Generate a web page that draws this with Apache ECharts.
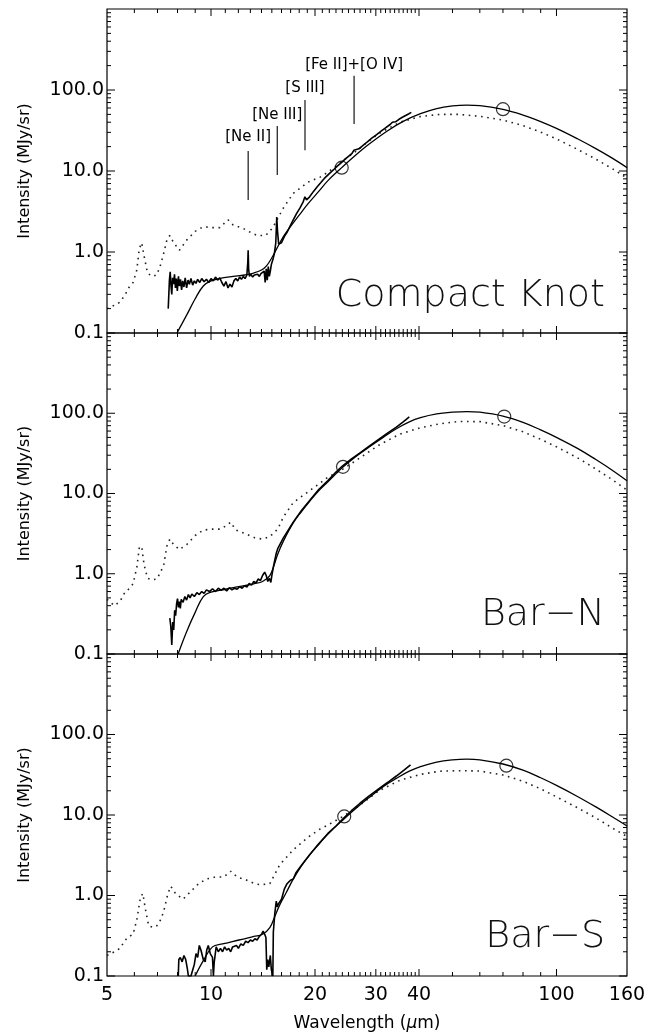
<!DOCTYPE html>
<html><head><meta charset="utf-8">
<script src="https://cdn.jsdelivr.net/npm/echarts@6/dist/echarts.min.js"></script>
<style>html,body{margin:0;padding:0;background:#fff}#c{width:649px;height:1034px}</style>
</head><body><div id="c"></div>
<script>
// ---------- axes ----------
const xLabels = [5, 10, 20, 30, 40, 100, 160];
const yLabels = [0.1, 1, 10, 100];
const xMajorTicks = [10, 20, 30, 40, 100];
const xMinorTicks = [6, 7, 8, 9, 11, 12, 13, 14, 15, 16, 17, 18, 19, 21, 22, 23, 24, 25, 26, 27, 28, 29,
  31, 32, 33, 34, 35, 36, 37, 38, 39, 50, 60, 70, 80, 90];
const yMajorTicks = [0.1, 1, 10, 100];
const yMinorTicks = [0.2, 0.3, 0.4, 0.5, 0.6, 0.7, 0.8, 0.9, 2, 3, 4, 5, 6, 7, 8, 9,
  20, 30, 40, 50, 60, 70, 80, 90, 200, 300, 400, 500, 600, 700, 800, 900];
const panelNames = ['Compact Knot', 'Bar\u2212N', 'Bar\u2212S'];

// ---------- Compact Knot ----------
const dotted1X = [5.0, 5.25, 5.45, 5.65, 5.8, 5.95, 6.1, 6.2, 6.3, 6.4, 6.55, 6.75, 6.97, 7.15, 7.3, 7.45, 7.6, 7.8, 8.1, 8.5, 9.0, 9.5, 10.1, 10.6, 11.2, 11.6, 12.4, 13.0, 13.6, 14.4, 15.1, 16.2, 17.3, 19.1, 20.7, 21.8, 23.6, 26.0, 30.6, 35.2, 40.4, 46, 52, 60, 70, 80, 90, 100, 115, 130, 145, 160];
const dotted1Y = [0.20, 0.22, 0.24, 0.30, 0.37, 0.42, 0.6, 1.1, 1.3, 0.9, 0.55, 0.5, 0.52, 0.7, 0.97, 1.4, 1.6, 1.3, 1.05, 1.4, 1.8, 2.05, 2.0, 2.0, 2.5, 2.15, 1.95, 1.75, 1.6, 1.6, 2.0, 3.5, 5.3, 7.3, 8.4, 9.7, 12.5, 17, 29, 40, 47, 50, 50, 47.4, 42.6, 36.3, 30.2, 24.9, 18.5, 14.0, 10.7, 8.2];
const model1X = [7.97, 8.5, 9.0, 9.5, 10, 10.8, 11.6, 12.5, 13.3, 14.0, 14.5, 15.0, 15.5, 16.2, 16.9, 18, 19.1, 20.5, 21.8, 23.9, 26, 28.7, 32.3, 36, 40.4, 45, 50, 55, 60, 70, 80, 90, 100, 115, 130, 145, 160];
const model1Y = [0.1, 0.166, 0.265, 0.38, 0.44, 0.48, 0.5, 0.52, 0.55, 0.6, 0.68, 0.85, 1.1, 1.55, 2.0, 2.85, 3.95, 5.6, 7.6, 11, 15.2, 21.5, 31, 41, 51, 59, 63.5, 65, 64, 57.5, 49, 40.8, 33.6, 25, 18.9, 14.4, 11.0];
const spec1X = [7.52, 7.58, 7.62, 7.66, 7.70, 7.74, 7.79, 7.84, 7.89, 7.94, 7.99, 8.05, 8.10, 8.16, 8.22, 8.28, 8.35, 8.42, 8.50, 8.58, 8.66, 8.75, 8.85, 8.95, 9.05, 9.15, 9.28, 9.40, 9.55, 9.70, 9.85, 10.0, 10.15, 10.3, 10.45, 10.6, 10.75, 10.9, 11.05, 11.2, 11.35, 11.5, 11.65, 11.8, 11.95, 12.1, 12.25, 12.4, 12.55, 12.7, 12.78, 12.81, 12.85, 12.92, 13.05, 13.2, 13.35, 13.5, 13.65, 13.8, 13.95, 14.1, 14.25, 14.35, 14.45, 14.55, 14.65, 14.75, 14.85, 14.95, 15.1, 15.25, 15.4, 15.50, 15.58, 15.7, 15.85, 16.0, 16.3, 16.6, 16.9, 17.3, 17.7, 18.1, 18.5, 18.7, 18.9, 19.3, 19.8, 20.3, 20.8, 21.4, 22.0, 22.6, 23.2, 23.8, 24.4, 25.0, 25.6, 25.9, 26.2, 26.8, 27.5, 28.3, 29.2, 30.1, 31.0, 32.0, 33.0, 33.5, 34.2, 35.0, 35.8, 36.6, 37.4, 38.0];
const spec1Y = [0.20, 0.45, 0.57, 0.38, 0.30, 0.48, 0.40, 0.53, 0.36, 0.47, 0.33, 0.50, 0.38, 0.46, 0.34, 0.44, 0.37, 0.48, 0.36, 0.45, 0.40, 0.47, 0.39, 0.44, 0.41, 0.46, 0.42, 0.47, 0.43, 0.46, 0.42, 0.47, 0.44, 0.49, 0.45, 0.48, 0.42, 0.38, 0.43, 0.36, 0.40, 0.37, 0.44, 0.47, 0.44, 0.49, 0.46, 0.50, 0.47, 0.52, 0.75, 1.05, 0.62, 0.50, 0.53, 0.49, 0.52, 0.50, 0.53, 0.50, 0.54, 0.52, 0.58, 0.42, 0.62, 0.45, 0.66, 0.50, 0.58, 0.70, 0.80, 0.95, 1.3, 2.7, 1.8, 1.25, 1.2, 1.3, 1.55, 1.75, 2.05, 2.5, 3.0, 3.5, 4.2, 4.8, 4.4, 4.8, 5.6, 6.4, 7.2, 8.3, 9.3, 10.3, 11.5, 12.6, 13.9, 15.2, 16.5, 18.0, 17.4, 18.8, 20.6, 22.8, 25.4, 28.0, 30.8, 34.0, 37.5, 40.0, 40.5, 43.5, 46.0, 48.5, 51.0, 53.0];
const phot1X = [23.9, 70];
const phot1Y = [11, 58];

// ---------- Bar-N ----------
const dotted2X = [5.0, 5.25, 5.45, 5.65, 5.8, 5.95, 6.1, 6.2, 6.3, 6.4, 6.55, 6.75, 6.97, 7.15, 7.3, 7.45, 7.6, 7.8, 8.1, 8.5, 9.0, 9.5, 10.1, 10.6, 11.0, 11.4, 11.8, 12.7, 13.4, 14.1, 14.8, 15.6, 16.2, 17.3, 19.1, 20.7, 21.8, 23.6, 26.0, 30.6, 35.2, 40.4, 46, 52, 60, 70, 80, 90, 100, 115, 130, 145, 160];
const dotted2Y = [0.48, 0.40, 0.45, 0.6, 0.65, 0.75, 1.2, 2.1, 2.2, 1.3, 0.88, 0.84, 0.86, 1.05, 1.3, 2.2, 2.7, 2.3, 2.0, 2.3, 3.0, 3.5, 3.6, 3.6, 3.9, 4.4, 3.5, 3.1, 2.8, 2.7, 2.9, 3.6, 5.1, 7.7, 10.5, 13.5, 16.0, 19, 25, 40, 55, 66, 74, 79, 78.6, 70.2, 58.8, 47.3, 38.2, 27.9, 20.2, 14.9, 11.0];
const model2X = [8.03, 8.5, 9.0, 9.5, 10, 10.8, 11.6, 12.5, 13.3, 14.1, 14.8, 15.2, 15.6, 16.2, 17.3, 18.3, 19.3, 20.5, 21.8, 24, 26, 28.7, 31.5, 34.4, 37.5, 40.4, 45, 50, 55, 60, 70, 80, 90, 100, 115, 130, 145, 160];
const model2Y = [0.1, 0.19, 0.33, 0.52, 0.59, 0.63, 0.67, 0.71, 0.75, 0.8, 0.95, 1.25, 1.75, 2.55, 4.3, 6.0, 8.0, 10.8, 14, 21, 28, 38, 50, 64, 78, 88, 98, 103, 105, 103, 92, 77, 62, 50, 36.5, 26.5, 19.5, 14.4];
const spec2X = [7.6, 7.65, 7.7, 7.75, 7.8, 7.85, 7.9, 7.95, 8.0, 8.05, 8.1, 8.15, 8.2, 8.3, 8.4, 8.5, 8.6, 8.7, 8.8, 8.95, 9.1, 9.25, 9.4, 9.55, 9.7, 9.9, 10.1, 10.3, 10.5, 10.7, 10.9, 11.1, 11.3, 11.5, 11.7, 11.9, 12.1, 12.3, 12.5, 12.7, 12.9, 13.1, 13.3, 13.5, 13.7, 13.9, 14.1, 14.3, 14.45, 14.6, 14.75, 14.9, 15.0, 15.2, 15.45, 15.6, 16.2, 17.3, 18.3, 19.3, 20.5, 21.8, 23.0, 24.0, 25.5, 27, 28.7, 30.5, 32.5, 34.4, 36, 37.5];
const spec2Y = [0.28, 0.22, 0.13, 0.25, 0.20, 0.35, 0.30, 0.42, 0.49, 0.38, 0.45, 0.37, 0.48, 0.44, 0.52, 0.47, 0.55, 0.50, 0.56, 0.52, 0.58, 0.55, 0.60, 0.57, 0.63, 0.60, 0.65, 0.60, 0.66, 0.62, 0.66, 0.61, 0.67, 0.63, 0.66, 0.64, 0.69, 0.66, 0.71, 0.68, 0.76, 0.72, 0.80, 0.77, 0.86, 0.82, 0.95, 1.05, 0.95, 0.80, 0.88, 0.78, 0.95, 1.3, 1.8, 2.05, 2.8, 4.4, 6.2, 8.2, 11.2, 14.5, 18.5, 22, 27, 32, 39, 47, 57, 67, 78, 90];
const phot2X = [24.1, 70.6];
const phot2Y = [21.5, 91];

// ---------- Bar-S ----------
const dotted3X = [5.0, 5.25, 5.45, 5.65, 5.8, 5.95, 6.1, 6.25, 6.35, 6.45, 6.6, 6.8, 6.97, 7.15, 7.3, 7.5, 7.65, 7.9, 8.3, 8.7, 9.2, 9.7, 10.3, 10.9, 11.4, 11.9, 12.7, 13.4, 13.9, 14.8, 15.8, 17.3, 19.1, 20.7, 21.8, 24, 26.5, 30.6, 35.2, 40.4, 46, 52, 60, 70, 80, 90, 100, 115, 130, 145, 160];
const dotted3Y = [0.18, 0.20, 0.22, 0.28, 0.31, 0.33, 0.5, 0.95, 1.06, 0.7, 0.42, 0.40, 0.42, 0.5, 0.64, 1.05, 1.3, 1.05, 0.9, 1.1, 1.4, 1.6, 1.7, 1.7, 2.0, 1.7, 1.55, 1.4, 1.36, 1.4, 2.4, 3.7, 5.3, 6.7, 7.5, 9.5, 12.5, 20, 27, 32, 35, 35.5, 35.2, 31.4, 26.3, 21.1, 16.8, 12.3, 9.2, 6.9, 5.4];
const model3X = [9.0, 9.5, 10.1, 10.8, 11.6, 12.5, 13.3, 14.1, 14.8, 15.3, 15.8, 16.5, 17.3, 18.3, 19.3, 20.5, 21.8, 24.3, 26.5, 28.7, 31.5, 34.4, 37.5, 40.4, 45, 50, 55, 60, 70, 80, 90, 100, 115, 130, 145, 160];
const model3Y = [0.1, 0.155, 0.23, 0.25, 0.27, 0.29, 0.31, 0.33, 0.4, 0.55, 0.76, 1.08, 1.6, 2.35, 3.2, 4.3, 5.8, 9.0, 12.5, 16.5, 22.5, 28.5, 35, 40, 45.5, 48.5, 49.5, 48.5, 43, 36, 29, 23.3, 17, 12.6, 9.5, 7.3];
const spec3X = [8.04, 8.07, 8.15, 8.25, 8.35, 8.45, 8.55, 8.60, 8.75, 8.95, 9.05, 9.15, 9.25, 9.35, 9.5, 9.62, 9.72, 9.82, 9.95, 10.1, 10.16, 10.22, 10.35, 10.5, 10.65, 10.8, 10.95, 11.1, 11.25, 11.4, 11.55, 11.7, 11.85, 12.0, 12.2, 12.4, 12.6, 12.8, 13.0, 13.2, 13.4, 13.6, 13.8, 14.0, 14.15, 14.3, 14.42, 14.5, 14.6, 14.7, 14.85, 14.95, 15.1, 15.15, 15.3, 15.45, 15.55, 15.65, 15.8, 16.0, 16.3, 16.6, 17.0, 17.3, 17.6, 18.3, 19.3, 20.5, 21.8, 23.0, 24.3, 25.5, 27.0, 28.7, 30.5, 32.5, 34.4, 36.2, 37.8];
const spec3Y = [0.10, 0.16, 0.17, 0.15, 0.18, 0.16, 0.12, 0.10, 0.10, 0.14, 0.19, 0.17, 0.24, 0.21, 0.16, 0.15, 0.21, 0.24, 0.19, 0.17, 0.10, 0.15, 0.23, 0.20, 0.22, 0.20, 0.23, 0.21, 0.22, 0.20, 0.23, 0.22, 0.24, 0.22, 0.25, 0.24, 0.27, 0.26, 0.28, 0.27, 0.29, 0.28, 0.31, 0.33, 0.36, 0.33, 0.30, 0.12, 0.16, 0.13, 0.18, 0.12, 0.10, 0.35, 0.6, 0.85, 0.72, 0.78, 0.80, 0.90, 1.2, 1.4, 1.55, 1.6, 1.9, 2.4, 3.2, 4.4, 5.9, 7.3, 9.3, 11.3, 14.0, 17.3, 21, 25.5, 30.5, 36, 42];
const phot3X = [24.3, 71.6];
const phot3Y = [9.6, 41];

// ---------- line identifications (Compact Knot) ----------
const lineNames = ['[Ne II]', '[Ne III]', '[S III]', '[Fe II]+[O IV]'];
const lineWave = [12.81, 15.55, 18.71, 25.95];
const lineBottom = [4.4, 8.9, 18, 38];
const lineTop = [17.7, 36, 75, 150];
const lineLabelY = [26.3, 49, 106, 204];

// ---------- build ----------
const zip = (xs, ys) => xs.map((x, i) => [x, ys[i]]);
const panels = [
  {dotted: zip(dotted1X, dotted1Y), model: zip(model1X, model1Y), spec: zip(spec1X, spec1Y), phot: zip(phot1X, phot1Y)},
  {dotted: zip(dotted2X, dotted2Y), model: zip(model2X, model2Y), spec: zip(spec2X, spec2Y), phot: zip(phot2X, phot2Y)},
  {dotted: zip(dotted3X, dotted3Y), model: zip(model3X, model3Y), spec: zip(spec3X, spec3Y), phot: zip(phot3X, phot3Y)}
];
const X_MIN = 5, X_MAX = 160, Y_MIN = 0.1, Y_MAX = 1000;
const tickData = [].concat(
  xMajorTicks.map(v => [v, 1]), xMinorTicks.map(v => [v, 2]),
  yMajorTicks.map(v => [v, 3]), yMinorTicks.map(v => [v, 4]));

const FONT = 'DejaVu Sans';
const gridsLayout = [{top: 9, height: 324}, {top: 333, height: 321}, {top: 654, height: 322}];

function renderTicks(params, api) {
  const v = api.value(0), k = api.value(1);
  const cs = params.coordSys;
  const st = {stroke: '#000', lineWidth: 1};
  if (k === 1 || k === 2) {
    const len = k === 1 ? 7 : 4;
    const px = api.coord([v, Y_MIN])[0];
    return {type: 'group', children: [
      {type: 'line', shape: {x1: px, y1: cs.y + cs.height, x2: px, y2: cs.y + cs.height - len}, style: st},
      {type: 'line', shape: {x1: px, y1: cs.y, x2: px, y2: cs.y + len}, style: st}
    ]};
  }
  const len = k === 3 ? 8 : 4;
  const py = api.coord([X_MIN, v])[1];
  return {type: 'group', children: [
    {type: 'line', shape: {x1: cs.x, y1: py, x2: cs.x + len, y2: py}, style: st},
    {type: 'line', shape: {x1: cs.x + cs.width, y1: py, x2: cs.x + cs.width - len, y2: py}, style: st}
  ]};
}

function renderLineIds(params, api) {
  const i = params.dataIndex;
  const b = api.coord([api.value(0), api.value(1)]);
  const t = api.coord([api.value(0), api.value(2)]);
  const l = api.coord([api.value(0), api.value(3)]);
  return {type: 'group', children: [
    {type: 'line', shape: {x1: b[0], y1: b[1], x2: t[0], y2: t[1]}, style: {stroke: '#000', lineWidth: 1.1}},
    {type: 'text', x: l[0], y: l[1], style: {text: lineNames[i], fill: '#000', fontSize: 15, fontFamily: FONT,
      align: 'center', verticalAlign: 'middle', textAlign: 'center', textVerticalAlign: 'middle'}}
  ]};
}

const grid = [], xAxis = [], yAxis = [], series = [], graphic = [];
panels.forEach((p, i) => {
  grid.push({left: 107, width: 520, top: gridsLayout[i].top, height: gridsLayout[i].height,
    show: true, borderColor: '#000', borderWidth: 1.2, backgroundColor: 'transparent',
    containLabel: false, outerBoundsMode: 'none'});
  const last = i === 2;
  xAxis.push({type: 'log', logBase: 10, gridIndex: i, min: X_MIN, max: X_MAX,
    axisLine: {show: false}, axisTick: {show: false}, splitLine: {show: false}, minorTick: {show: false},
    axisLabel: {show: last, customValues: xLabels, margin: 10, color: '#000', fontSize: 19, fontFamily: FONT,
      formatter: v => String(Math.round(v))},
    name: last ? 'Wavelength ({i|\u03bc}m)' : '', nameLocation: 'middle', nameGap: 39,
    nameTextStyle: {color: '#000', fontSize: 17, fontFamily: FONT,
      rich: {i: {fontStyle: 'italic', fontSize: 17, fontFamily: FONT, color: '#000'}}}});
  yAxis.push({type: 'log', logBase: 10, gridIndex: i, min: Y_MIN, max: Y_MAX,
    axisLine: {show: false}, axisTick: {show: false}, splitLine: {show: false}, minorTick: {show: false},
    axisLabel: {customValues: yLabels, margin: 3, color: '#000', fontSize: 19, fontFamily: FONT,
      formatter: v => Number(v).toFixed(1)},
    name: 'Intensity (MJy/sr)', nameLocation: 'middle', nameGap: 74,
    nameTextStyle: {color: '#000', fontSize: 16, fontFamily: FONT}});
  series.push({type: 'line', xAxisIndex: i, yAxisIndex: i, data: p.dotted, showSymbol: false, symbol: 'none',
    lineStyle: {color: '#222', width: 1.6, type: [1.6, 4.6]}, silent: true, animation: false, z: 2});
  series.push({type: 'line', xAxisIndex: i, yAxisIndex: i, data: p.model, showSymbol: false, symbol: 'none',
    smooth: 0.4, lineStyle: {color: '#000', width: 1.3}, silent: true, animation: false, z: 3});
  series.push({type: 'line', xAxisIndex: i, yAxisIndex: i, data: p.spec, showSymbol: false, symbol: 'none',
    lineStyle: {color: '#000', width: 1.6}, silent: true, animation: false, z: 4});
  series.push({type: 'scatter', xAxisIndex: i, yAxisIndex: i, data: p.phot, symbol: 'circle', symbolSize: 13,
    itemStyle: {color: 'transparent', borderColor: '#000', borderWidth: 1.2}, silent: true, animation: false, z: 5});
  series.push({type: 'custom', xAxisIndex: i, yAxisIndex: i, data: tickData, renderItem: renderTicks,
    silent: true, animation: false, z: 6, clip: false});
});
series.push({type: 'custom', xAxisIndex: 0, yAxisIndex: 0,
  data: lineWave.map((w, i) => [w, lineBottom[i], lineTop[i], lineLabelY[i]]),
  renderItem: renderLineIds, silent: true, animation: false, z: 7, clip: false});

const nameY = [296, 615, 937];
panelNames.forEach((n, i) => {
  graphic.push({type: 'text', x: 605, y: nameY[i], silent: true, z: 10,
    style: {text: n, fill: '#111', fontSize: 38, fontFamily: FONT, fontWeight: 200,
      align: 'right', verticalAlign: 'middle', textAlign: 'right', textVerticalAlign: 'middle'}});
});

const chart = echarts.init(document.getElementById('c'), null, {renderer: 'canvas'});
chart.setOption({animation: false, backgroundColor: '#fff', grid, xAxis, yAxis, series, graphic});
</script></body></html>
